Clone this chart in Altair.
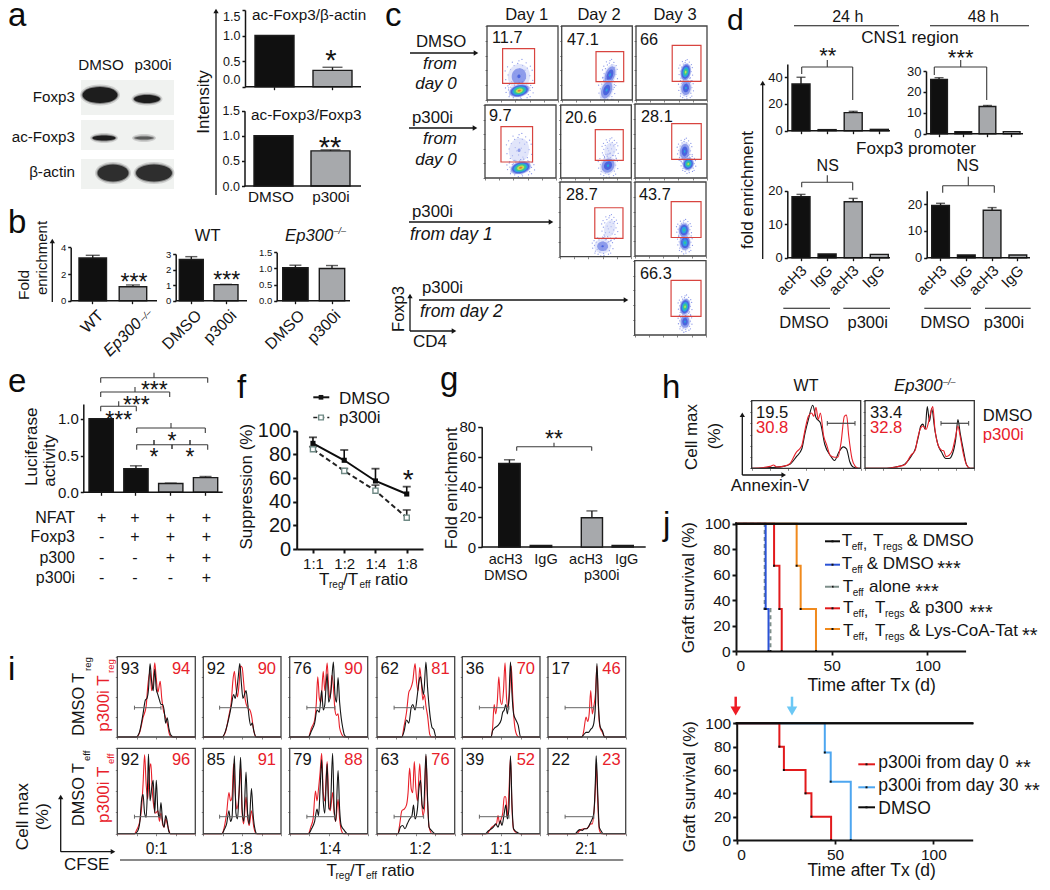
import altair as alt
import pandas as pd

FONT = "Liberation Sans"
W, H = 1034, 874
INK = "#141414"
DARK_BAR = "#101010"
GREY_BAR = "#a7a9ac"
RED = "#e8202a"
GATE = "#d8443f"
ONE = alt.InlineData(values=[{"a": 0}])
layers = []


def text(x, y, s, size=15, color=INK, align="center", baseline="middle", angle=0, italic=False):
    kw = {"fontStyle": "italic"} if italic else {}
    layers.append(alt.Chart(ONE).mark_text(text=s, font=FONT, fontSize=size, color=color, align=align,
                                           baseline=baseline, angle=angle, **kw)
                  .encode(x=alt.value(x - 8), y=alt.value(y - 8)))


def star(cx, cy, n, size=23):
    text(cx, cy + 0.575 * size, "*" * n, size=size, baseline="alphabetic")


def panel_label(x, y, s, size=33):
    text(x, y, s, size=size, align="left", baseline="alphabetic", color="#0c0c0c")


def seg(x1, y1, x2, y2, color=INK, width=1.3, dash=None):
    kw = {"strokeDash": dash} if dash else {}
    layers.append(alt.Chart(ONE).mark_rule(color=color, strokeWidth=width, **kw)
                  .encode(x=alt.value(x1 - 8), x2=alt.value(x2 - 8), y=alt.value(y1 - 8), y2=alt.value(y2 - 8)))


def head(x, y, shape, size=28, color=INK):
    layers.append(alt.Chart(ONE).mark_point(shape=shape, filled=True, size=size, color=color, opacity=1, strokeWidth=0)
                  .encode(x=alt.value(x - 8), y=alt.value(y - 8)))


def arrow_r(x1, x2, y, width=1.3):
    seg(x1, y, x2 - 3, y, width=width)
    head(x2 - 3, y, "triangle-right")


def arrow_u(x, y1, y2, width=1.3):
    seg(x, y1, x, y2 + 3, width=width)
    head(x, y2 + 3, "triangle-up")


def ell_path(w, h):
    a = h / w
    return f"M-1,0A1,{a:.3f} 0 1,1 1,0A1,{a:.3f} 0 1,1 -1,0Z"


def ellipse(x, y, w, h, color, opacity=1.0, angle=0):
    layers.append(alt.Chart(ONE).mark_point(shape=ell_path(w, h), size=w * w, filled=True, color=color,
                                            opacity=opacity, strokeWidth=0, angle=angle)
                  .encode(x=alt.value(x - 8), y=alt.value(y - 8)))


def frame(x0, x1, y0, y1, color="#444444", width=1.3):
    layers.append(alt.Chart(ONE).mark_rect(fill="white", fillOpacity=0, stroke=color, strokeWidth=width)
                  .encode(x=alt.value(x0 - 8), x2=alt.value(x1 - 8), y=alt.value(y0 - 8), y2=alt.value(y1 - 8)))


def yaxis(axx, ticks, size, fmt, tick=3, pad=2, width=1.5, flush=False):
    return alt.Axis(orient="left", offset=-(axx - 8), values=ticks, labelFont=FONT, labelFontSize=size, format=fmt,
                    tickSize=tick, tickWidth=width, tickColor=INK, domainColor=INK, domainWidth=width, labelColor=INK,
                    labelPadding=pad, grid=False, title=None, labelOverlap=False, labelFlush=flush)


def bars(cats, vals, errs, groups, left, right, barw, y0, ytop, dom, axx=None, ticks=None, size=13, fmt="d",
         x_end=None, cap=None, xticks=True, tick=3, flush=False):
    n = len(cats)
    gap = (right - left - n * barw) / (n - 1)
    xs = alt.Scale(domain=cats, range=[left - 8, right - 8], paddingInner=gap / (gap + barw), paddingOuter=0)
    ys = alt.Scale(domain=dom, range=[y0 - 8, ytop - 8])
    cs = alt.Scale(domain=["DMSO", "p300i"], range=[DARK_BAR, GREY_BAR])
    df = pd.DataFrame({"c": cats, "v": vals, "e": errs, "g": groups})
    df["top"] = df.v + df.e
    xax = None
    if xticks:
        xax = alt.Axis(orient="bottom", offset=(y0 - 8) - H, labels=False, domain=False, tickSize=3, tickWidth=1.3,
                       tickColor=INK, grid=False, title=None)
    yax = yaxis(axx, ticks, size, fmt, tick=tick, flush=flush) if axx is not None else None
    layers.append(alt.Chart(df).mark_bar(stroke="#1c1c1c", strokeWidth=1.4).encode(
        x=alt.X("c:N", scale=xs, sort=cats, axis=xax),
        y=alt.Y("v:Q", scale=ys, axis=yax, stack=None),
        color=alt.Color("g:N", scale=cs, legend=None)))
    ed = df[df.e > 0]
    if len(ed):
        layers.append(alt.Chart(ed).mark_rule(color="#1c1c1c", strokeWidth=1.4).encode(
            x=alt.X("c:N", scale=xs, sort=cats, axis=None),
            y=alt.Y("v:Q", scale=ys, axis=None), y2="top:Q"))
        layers.append(alt.Chart(ed).mark_tick(color="#1c1c1c", thickness=1.4, size=cap or barw * 0.5, orient="horizontal").encode(
            x=alt.X("c:N", scale=xs, sort=cats, axis=None),
            y=alt.Y("top:Q", scale=ys, axis=None)))
    if x_end is not None:
        seg(axx, y0, x_end, y0, width=1.6)


def bracket(x0, x1, y, drop_l, drop_r, cx, up, color="#3a3a3a", width=1.1):
    seg(x0, y, x1, y, color, width)
    seg(x0, y, x0, y + drop_l, color, width)
    seg(x1, y, x1, y + drop_r, color, width)
    seg(cx, y, cx, y - up, color, width)


def hist(pts, box, color, width=1.1):
    df = pd.DataFrame({"x": [0] + [p[0] for p in pts] + [100], "y": [0] + [p[1] for p in pts] + [0]})
    x0, x1, y0, y1 = box
    layers.append(alt.Chart(df).mark_line(color=color, strokeWidth=width, interpolate="monotone").encode(
        x=alt.X("x:Q", scale=alt.Scale(domain=[0, 100], range=[x0 - 8, x1 - 8]), axis=None),
        y=alt.Y("y:Q", scale=alt.Scale(domain=[0, 104], range=[y1 - 8, y0 - 8]), axis=None)))


def frame_ticks(box, n=6, left=True, bottom=True):
    x0, x1, y0, y1 = box
    df = pd.DataFrame({"x": [0, 100], "y": [0, 100]})
    vals = [100 * i / (n - 1) for i in range(n)]
    def ax(o, off):
        return alt.Axis(orient=o, offset=off, values=vals, labels=False, domain=False, tickSize=2, tickWidth=0.8,
                        tickColor="#666666", grid=False, title=None)
    layers.append(alt.Chart(df).mark_line(opacity=0).encode(
        x=alt.X("x:Q", scale=alt.Scale(domain=[0, 100], range=[x0 - 8, x1 - 8]), axis=ax("bottom", (y1 - 8) - H) if bottom else None),
        y=alt.Y("y:Q", scale=alt.Scale(domain=[0, 100], range=[y1 - 8, y0 - 8]), axis=ax("left", -(x0 - 8)) if left else None)))


# ---------- panel a ----------
panel_label(8, 26, "a")
for box_y in [(80, 115), (120, 150), (159, 189)]:
    layers.append(alt.Chart(ONE).mark_rect(fill="#f0f2f0").encode(
        x=alt.value(81 - 8), x2=alt.value(174 - 8), y=alt.value(box_y[0] - 8), y2=alt.value(box_y[1] - 8)))
BLOTS = [(100, 95, 35, 16, 1), (147, 99, 26, 8, 1), (104, 138, 23, 5, 1), (144, 138, 19, 3, 0.55),
         (113, 173, 31, 17, 0.85), (154, 173, 36, 17, 0.85)]
for bx, by, bw, bh, dk in BLOTS:
    ellipse(bx, by, bw + 5, bh + 5, "#8c8c8c", 0.35)
    ellipse(bx, by, bw + 2, bh + 2, "#555555", 0.6 * dk)
    ellipse(bx, by, bw, bh, "#1d1d1d", dk)
text(101, 65, "DMSO", 15.2)
text(153, 65, "p300i", 15.2)
text(75, 97, "Foxp3", 15.2, align="right")
text(75, 137, "ac-Foxp3", 15.2, align="right")
text(75, 172, "β-actin", 15.2, align="right")

A_CATS = ["DMSO", "p300i"]
a_top = [1.0, 0.32]
a_top_err = [0, 0.06]
a_bot = [1.0, 0.7]
a_bot_err = [0, 0.02]
bars(A_CATS, a_top, a_top_err, A_CATS, 255, 352, 39, 86.7, 10, [0, 1.5], 245, [0, 0.5, 1.0, 1.5], 12.5, ".1f", 361, cap=20, flush=True)
bars(A_CATS, a_bot, a_bot_err, A_CATS, 254, 350, 39, 186, 110.7, [0, 1.5], 244.5, [0, 0.5, 1.0, 1.5], 12.5, ".1f", 361, cap=20, xticks=False)
text(252, 15, "ac-Foxp3/β-actin", 15.3, align="left")
text(251, 115, "ac-Foxp3/Foxp3", 15.3, align="left")
star(331, 53, 1, 29)
star(330, 140, 2, 29)
text(271, 197, "DMSO", 15.3)
text(331, 197, "p300i", 15.3)
arrow_u(216, 195, 8)
text(204, 102, "Intensity", 17, angle=270)

# ---------- panel b ----------
panel_label(8, 233, "b")
bars(["WT", "Ep300"], [3.2, 1.05], [0.2, 0.13], ["DMSO", "p300i"], 79, 146.7, 27.5, 300.7, 247.3, [0, 4], 70.7, [0, 2, 4], 9.5, "d", 157, cap=14)
bars(["DMSO", "p300i"], [2.65, 1.03], [0.18, 0.02], ["DMSO", "p300i"], 179.3, 238, 24, 300.7, 254, [0, 3], 175.7, [0, 1, 2, 3], 9.5, "d", 247, cap=12, xticks=True)
bars(["DMSO", "p300i"], [1.02, 1.0], [0.08, 0.09], ["DMSO", "p300i"], 282.7, 344.7, 25.4, 300.7, 252.3, [0, 1.5], 276.7, [0, 0.5, 1.0, 1.5], 9.5, ".1f", 350, cap=12)
star(134, 277, 3)
star(226.7, 275, 3)
text(207.7, 236, "WT", 16.5)
text(285, 236, "Ep300", 16.7, align="left", italic=True)
text(333.5, 231, "–/–", 9, align="left", italic=True)
text(24, 285, "Fold", 15.5, angle=270)
text(42, 258, "enrichment", 15, angle=270)
arrow_u(52.3, 302, 238)
text(101, 313, "WT", 16, align="right", angle=315)
text(139, 321, "Ep300", 16, align="right", angle=315, italic=True)
text(141, 320, "–/–", 9, align="left", angle=315, italic=True)
text(199, 313, "DMSO", 16, align="right", angle=315)
text(234, 313, "p300i", 16, align="right", angle=315)
text(302, 313, "DMSO", 16, align="right", angle=315)
text(338, 313, "p300i", 16, align="right", angle=315)

# ---------- panel c ----------
panel_label(385, 26, "c")
# panel frame, gate (percent of the CD4 / Foxp3 axes) and density clouds (cx, cy, width, height, tilt, level)
FACS = [
    ((487, 558, 26, 100), (22, 67, 22.6, 69.3), "11.7", (492, 38), [(45, 32, 24, 27, 10, 2), (45.5, 12.6, 24, 14, 345, 6)]),
    ((561.7, 632.3, 26, 100), (48.6, 87.8, 24.7, 65.3), "47.1", (567, 40), [(68.4, 33.8, 13, 25, 20, 3), (63.7, 13.5, 14, 24, 20, 3)]),
    ((636, 707, 26, 100), (51, 91.5, 25.3, 73.9), "66", (640, 40), [(70.4, 16.2, 13, 19, 5, 3), (70, 37.8, 12, 20, 10, 5)]),
    ((485, 556, 105, 178), (22.5, 67, 21.9, 70.3), "9.7", (489, 116), [(48, 38, 22, 27, 10, 1), (50.3, 14, 24, 14, 345, 6)]),
    ((560.7, 631.3, 105, 178), (49, 88.6, 24.2, 66.2), "20.6", (565, 118), [(70, 38, 14, 20, 15, 0), (67, 17, 17, 20, 30, 3)]),
    ((635, 707, 104, 178), (51, 92, 25.3, 73.4), "28.1", (641, 117), [(69, 36, 13, 21, 5, 3), (74, 19, 13, 15, 20, 5)]),
    ((560, 631, 182, 256.7), (49, 88.7, 24.5, 65.5), "28.7", (566, 195), [(70, 38, 14, 22, 15, 0), (60, 14, 18, 16, 0, 2)]),
    ((635, 706, 182, 256), (51, 93, 25, 73.4), "43.7", (639, 195), [(70.4, 18, 13, 18, 0, 4), (69, 35, 13, 17, 5, 4)]),
    ((634.7, 706, 260.7, 335), (51, 93, 25.2, 73.4), "66.3", (640, 274), [(70.6, 18, 12, 17, 0, 3), (70.6, 38, 12, 19, 10, 5)]),
]
LEVELS = ["#c9cff5", "#7f8fe8", "#3f5bdc", "#25aee0", "#3dd07c", "#dfe04a", "#ee6a2a"]
SPECKLE = [(-.9, .1), (-.7, .5), (-.6, -.4), (-.4, .8), (-.35, .2), (-.3, -.75), (-.1, .95), (-.05, -.35), (.05, .55), (.1, -.9),
           (.2, .15), (.3, .8), (.35, -.5), (.5, .45), (.55, -.15), (.7, .6), (.75, -.55), (.9, .05), (-.8, -.6), (-.2, -.05),
           (0, 1.15), (.15, -1.15), (-.55, 1.05), (.6, 1.0), (-.5, -1.0), (.65, -1.0), (-1.15, .4), (1.15, -.3), (-1.1, -.25), (1.1, .45),
           (-.95, .7), (.95, .75), (-.85, -.85), (.9, -.85), (.25, 1.25), (-.2, -1.25)]
for box, gate, num, numxy, blobs in FACS:
    x0, x1, y0, y1 = box
    xsc = alt.Scale(domain=[0, 100], range=[x0 - 8, x1 - 8])
    ysc = alt.Scale(domain=[0, 100], range=[y1 - 8, y0 - 8])
    for cx, cy, bw, bh, ang, lev in blobs:
        sp = pd.DataFrame({"cx": [cx + dx * bw / 2 * 100 / (x1 - x0) for dx, dy in SPECKLE],
                           "cy": [max(cy + dy * bh / 2 * 100 / (y1 - y0), 1) for dx, dy in SPECKLE]})
        layers.append(alt.Chart(sp).mark_circle(size=1.6, color="#6a7be2", opacity=0.8).encode(
            x=alt.X("cx:Q", scale=xsc, axis=None), y=alt.Y("cy:Q", scale=ysc, axis=None)))
        for i in range(lev + 1):
            f = 1 - 0.85 * (i / lev) ** 1.3 if lev else 0.85
            w_, h_ = max(bw * f * 0.92, 1.5), max(bh * f * 0.92, 1.5)
            layers.append(alt.Chart(pd.DataFrame({"cx": [cx], "cy": [cy]})).mark_point(
                shape=ell_path(w_, h_), size=w_ * w_, filled=True, color=LEVELS[i], opacity=0.55 if i == 0 else 0.85, strokeWidth=0, angle=ang
            ).encode(x=alt.X("cx:Q", scale=xsc, axis=None), y=alt.Y("cy:Q", scale=ysc, axis=None)))
    gd = pd.DataFrame({"a": [gate[0]], "b": [gate[1]], "c": [gate[2]], "d": [gate[3]]})
    layers.append(alt.Chart(gd).mark_rect(fill="white", fillOpacity=0, stroke=GATE, strokeWidth=1.2).encode(
        x=alt.X("a:Q", scale=xsc, axis=None), x2="b:Q",
        y=alt.Y("c:Q", scale=ysc, axis=None), y2="d:Q"))
    frame(x0, x1, y0, y1)
    frame_ticks(box)
    text(numxy[0], numxy[1], num, 16.3, align="left")
text(526.7, 15, "Day 1", 16.5)
text(599, 15, "Day 2", 16.5)
text(675, 15, "Day 3", 16.5)
text(416, 42, "DMSO", 16.8, align="left")
arrow_r(410, 479, 53)
text(440, 64, "from", 17, italic=True)
text(436, 84, "day 0", 17, italic=True)
text(412, 118, "p300i", 16.8, align="left")
arrow_r(409, 478, 128)
text(440, 139, "from", 17, italic=True)
text(436, 160, "day 0", 17, italic=True)
text(412, 212, "p300i", 16.8, align="left")
arrow_r(409, 554, 222)
text(410, 235, "from day 1", 17.5, align="left", italic=True)
text(422, 288, "p300i", 16.8, align="left")
arrow_r(419, 629, 300)
text(420, 312, "from day 2", 17.5, align="left", italic=True)
text(399, 309, "Foxp3", 16.5, angle=270)
arrow_u(410, 331, 293)
arrow_r(410, 457, 331)
text(413, 342, "CD4", 17, align="left")

# ---------- panel d ----------
panel_label(727, 30, "d", 30)
D_CATS = ["acH3", "IgG", "acH3 ", "IgG "]
D_GROUPS = ["DMSO", "DMSO", "p300i", "p300i"]
bars(D_CATS, [35, 0.8, 13.5, 1], [5, 0, 1, 0], D_GROUPS, 792, 888.3, 18, 130.7, 63.9, [0, 50], 787.3, [0, 20, 40], 13, "d", 890, cap=9)
bars(D_CATS, [26, 1, 13, 1], [0.8, 0, 0.5, 0], D_GROUPS, 930.7, 1020, 16.7, 133.7, 71, [0, 30], 926, [0, 10, 20, 30], 13, "d", 1023, cap=9)
bars(D_CATS, [18.2, 1.1, 16.7, 1], [0.7, 0, 1, 0], D_GROUPS, 792, 888.3, 18, 257.7, 190.7, [0, 20], 787.3, [0, 10, 20], 13, "d", 890, cap=9)
bars(D_CATS, [19.5, 1, 17.7, 1], [0.8, 0, 1, 0], D_GROUPS, 931.7, 1026.7, 17.7, 257.7, 190.7, [0, 25], 926.7, [0, 10, 20], 13, "d", 1030, cap=9)
text(847.7, 17, "24 h", 16)
seg(794, 25.7, 899, 25.7, width=1.1)
text(983.3, 17, "48 h", 16)
seg(930, 25.7, 1029, 25.7, width=1.1)
text(910, 38, "CNS1 region", 17)
text(916, 149.3, "Foxp3 promoter", 17)
star(827.7, 50.7, 2, 22)
star(960.7, 52.7, 3, 22)
text(827.7, 166, "NS", 16)
text(967.7, 166, "NS", 16)
bracket(801.7, 852.7, 67, 7, 33, 827.3, 7)
bracket(934.3, 986.7, 67, 8, 33, 960.7, 7)
bracket(801.7, 852.7, 182.3, 5, 8, 827.3, 7)
bracket(942.7, 994.3, 185.7, 7, 7, 968.3, 9)
text(748.3, 190, "fold enrichment", 17.3, angle=270)
arrow_u(762.7, 259, 80)
for cx, lab in zip([804, 830, 856, 882, 944, 970, 996, 1021], ["acH3", "IgG"] * 4):
    text(cx, 268, lab, 15, align="right", angle=315)
for xa, xb, xl, lab in [(783.3, 830, 804, "DMSO"), (843.3, 890, 867.7, "p300i"), (924.3, 971, 945, "DMSO"), (985, 1030.7, 1004, "p300i")]:
    seg(xa, 308.3, xb, 308.3, width=1.1)
    text(xl, 322.7, lab, 16.5)

# ---------- panel e ----------
panel_label(8, 392, "e")
bars(["1", "2", "3", "4"], [1.0, 0.32, 0.12, 0.2], [0, 0.04, 0.005, 0.015], ["DMSO", "DMSO", "p300i", "p300i"],
     89, 217.7, 24.3, 492.3, 404, [0, 1.2], 83.3, [0, 0.5, 1.0], 15, ".1f", 222.7, cap=12)
text(31.7, 446.7, "Luciferase", 17, angle=270)
text(50, 460.7, "activity", 17, angle=270)
bracket(100.7, 207.7, 377.7, 5, 5, 154, 5)
star(154.3, 384.3, 3)
bracket(100.7, 169.7, 392, 5, 5, 135, 5)
star(136.3, 399.3, 3)
bracket(100.7, 136.3, 406.3, 5, 5, 118.7, 5)
star(118.7, 414.7, 3)
bracket(136.7, 205.3, 428, 5, 5, 171, 5)
star(172, 435.7, 1)
bracket(136.7, 207.7, 444.7, 5, 5, 172, 0)
seg(172, 444.7, 172, 449)
seg(154, 444.7, 154, 440)
seg(190, 444.7, 190, 440)
star(154, 452, 1)
star(190, 452, 1)
E_ROWS = {"NFAT": "++++", "Foxp3": "-+++", "p300": "--++", "p300i": "---+"}
for (lab, marks), yy in zip(E_ROWS.items(), [517.7, 537.3, 558.3, 578]):
    text(75, yy, lab, 16, align="right")
    for cx, m in zip([101.7, 135, 170.3, 206.3], marks):
        text(cx, yy, m, 16)

# ---------- panel f ----------
panel_label(237, 398, "f")
F_CATS = ["1:1", "1:2", "1:4", "1:8"]
f_dmso = [89.3, 75, 57.5, 46.5]
f_dmso_top = [94.4, 83.7, 67.9, 52.7]
f_p300 = [84.3, 66, 49.3, 26.5]
f_p300_top = [86.5, 68, 54, 33]
fx = alt.Scale(type="point", domain=F_CATS, range=[296.7 - 8, 423 - 8], padding=0.52)
fy = alt.Scale(domain=[0, 100], range=[549 - 8, 430.7 - 8])
fdf = pd.DataFrame({"c": F_CATS, "d": f_dmso, "dt": f_dmso_top, "p": f_p300, "pt": f_p300_top})
FX_AX = alt.Axis(orient="bottom", offset=(549 - 8) - H, labelFont=FONT, labelFontSize=15, labelAngle=0, tickSize=4, tickWidth=2,
                 domainWidth=2, domainColor=INK, tickColor=INK, labelColor=INK, grid=False, title=None, labelPadding=3)
for val, top, color, dash, hollow in [("p", "pt", "#222222", [5, 3], True), ("d", "dt", "#0c0c0c", None, False)]:
    base_x = alt.X("c:N", scale=fx, sort=F_CATS, axis=None)
    kw = {"strokeDash": dash} if dash else {}
    first = alt.Y(f"{val}:Q", scale=fy, axis=None)
    layers.append(alt.Chart(fdf).mark_rule(color=color, strokeWidth=1.6).encode(x=base_x, y=first, y2=f"{top}:Q"))
    layers.append(alt.Chart(fdf).mark_tick(color=color, thickness=1.8, size=8, orient="horizontal").encode(
        x=base_x, y=alt.Y(f"{top}:Q", scale=fy, axis=None)))
    layers.append(alt.Chart(fdf).mark_line(color=color, strokeWidth=2, **kw).encode(x=base_x, y=first))
    if hollow:
        layers.append(alt.Chart(fdf).mark_point(shape="square", size=26, filled=True, fill="white", stroke="#6f8a85", strokeWidth=1.4, opacity=1).encode(x=base_x, y=first))
    else:
        layers.append(alt.Chart(fdf).mark_point(shape="square", size=26, filled=True, color="#0c0c0c", opacity=1).encode(
            x=alt.X("c:N", scale=fx, sort=F_CATS, axis=FX_AX),
            y=alt.Y(f"{val}:Q", scale=fy, axis=yaxis(296.7, [0, 20, 40, 60, 80, 100], 20, "d", tick=4, width=2))))
text(247.3, 486.7, "Suppression (%)", 17, angle=270)
seg(313.3, 397.3, 329.3, 397.3, width=2)
head(321, 397.3, "square", 22)
text(339, 398.5, "DMSO", 17, align="left")
seg(313.3, 417.5, 329.3, 417.5, "#222222", 1.6, [4, 3])
layers.append(alt.Chart(ONE).mark_point(shape="square", size=22, filled=True, fill="white", stroke="#6f8a85", strokeWidth=1.4, opacity=1)
              .encode(x=alt.value(321 - 8), y=alt.value(417.5 - 8)))
text(339, 417.5, "p300i", 17, align="left")
star(408.3, 473.3, 1, 28)
text(319, 580, "T", 17, align="left")
text(329, 585, "reg", 10, align="left")
text(343, 580, "/T", 17, align="left")
text(359.5, 585, "eff", 10, align="left")
text(375, 580, "ratio", 17, align="left")

# ---------- panel g ----------
panel_label(440, 390, "g")
bars(["acH3", "IgG"], [55.5, 1], [2.5, 0], ["DMSO", "DMSO"], 498.7, 551.7, 21.5, 547, 426.7, [0, 80], 481.7, [0, 20, 40, 60, 80], 15, "d", 645.7, cap=11, xticks=False, tick=4)
bars(["acH3", "IgG"], [19.5, 1], [4.5, 0], ["p300i", "p300i"], 581.3, 633.3, 21.2, 547, 426.7, [0, 80], cap=11, xticks=False)
for cx, lab in zip([505.7, 546, 586, 626.7], ["acH3", "IgG"] * 2):
    text(cx, 560, lab, 14.5)
text(505.7, 576, "DMSO", 14.5)
text(601.7, 576, "p300i", 14.5)
text(452.3, 488.3, "Fold enrichment", 17, angle=270)
bracket(516.7, 591.7, 446.7, 4, 4, 554, 4)
star(554, 434, 2)

# ---------- panel h ----------
panel_label(662, 398, "h")
H_BOX1 = (751.7, 860.7, 400.7, 468.3)
H_BOX2 = (865, 974.3, 400.7, 468.3)
wt_black = [(1.5, 0), (17, 1), (29, 3), (35, 6), (41, 18), (46, 30), (49, 55), (52, 75), (56, 97), (59, 78), (63, 70), (67, 37), (72, 20), (76, 12), (80, 25), (84, 33), (87, 30), (90, 10), (93, 2), (98, 0)]
wt_red = [(1.5, 0), (17, 3), (20, 5), (23, 2), (29, 3), (35, 7), (41, 25), (44, 30), (46, 35), (49, 60), (52, 80), (55, 85), (57, 80), (59, 94), (61, 75), (63, 85), (66, 50), (69, 35), (72, 20), (76, 17), (79, 17), (82, 40), (85, 80), (87, 82), (89, 50), (92, 15), (95, 3), (98, 0)]
ko_black = [(2, 0), (20, 0), (28, 2), (36, 6), (42, 18), (46, 30), (49, 50), (51, 65), (53, 68), (55, 60), (57, 95), (59, 72), (61, 92), (64, 58), (67, 35), (70, 25), (74, 15), (77, 15), (80, 22), (83, 45), (85, 75), (87, 55), (90, 28), (93, 5), (96, 0), (99, 0)]
ko_red = [(2, 0), (20, 0), (28, 2), (36, 5), (42, 20), (46, 28), (48, 45), (51, 62), (53, 65), (56, 60), (58, 70), (60, 85), (62, 95), (64, 60), (67, 35), (70, 28), (72, 27), (74, 18), (77, 20), (80, 28), (83, 50), (85, 65), (87, 50), (90, 22), (93, 5), (96, 0), (99, 0)]
for box, blk, rd, (gx0, gx1) in [(H_BOX1, wt_black, wt_red, (827.3, 855)), (H_BOX2, ko_black, ko_red, (941, 968.7))]:
    hist(blk, box, INK, 1.1)
    hist(rd, box, RED, 1.1)
    frame(box[0], box[1], box[2], box[3], "#333333")
    frame_ticks(box, n=7)
    seg(gx0, 423.3, gx1, 423.3, "#444444", 1.2)
    seg(gx0, 421, gx0, 425.6, "#444444", 1)
    seg(gx1, 421, gx1, 425.6, "#444444", 1)
text(806, 386, "WT", 16)
text(894, 386, "Ep300", 16.8, align="left", italic=True)
text(943, 382, "–/–", 9, align="left", italic=True)
text(756, 412.7, "19.5", 16.6, align="left")
text(756, 427.7, "30.8", 16.6, align="left", color=RED)
text(870, 412.7, "33.4", 16.6, align="left")
text(870, 427.7, "32.8", 16.6, align="left", color=RED)
text(982.7, 416, "DMSO", 16.6, align="left")
text(982.7, 435, "p300i", 16.8, align="left", color=RED)
arrow_u(742.3, 475, 411.7)
arrow_r(742.3, 786.7, 475)
text(730.7, 486, "Annexin-V", 17, align="left")
text(692, 437, "Cell max", 17, angle=270)
text(715, 436, "(%)", 17, angle=270)

# ---------- panel i ----------
panel_label(8, 680, "i")
I_COLS = [(117.3, 195.3), (203.3, 281), (289.7, 367.7), (377, 454.7), (462.3, 540), (548, 625.7)]
I_ROWS = [(656.7, 737), (748.3, 833.7)]
I_GATE_Y = [707.7, 816.7]
I_GATE_X = [(22, 56), (21, 58), (22, 58), (22, 60), (22, 60), (22, 59)]
I_BLACK_NUM = [["93", "92", "76", "62", "36", "17"], ["92", "85", "79", "63", "39", "22"]]
I_RED_NUM = [["94", "90", "90", "81", "70", "46"], ["96", "91", "88", "76", "52", "23"]]
I_BLACK = [[
    [(24, 0), (28, 5), (33, 30), (36, 48), (38, 50), (40, 62), (42, 95), (44, 72), (46, 60), (48, 88), (50, 62), (52, 55), (54, 48), (56, 42), (58, 42), (60, 35), (62, 18), (64, 25), (66, 12), (69, 2), (72, 0)],
    [(24, 0), (28, 6), (33, 25), (36, 40), (39, 55), (41, 50), (43, 60), (45, 78), (47, 95), (49, 70), (51, 50), (53, 55), (55, 60), (57, 45), (59, 25), (61, 15), (63, 18), (65, 8), (68, 0)],
    [(24, 0), (28, 8), (32, 18), (35, 35), (38, 32), (41, 60), (43, 35), (45, 42), (48, 82), (50, 45), (53, 60), (56, 97), (58, 55), (60, 45), (62, 77), (64, 45), (66, 25), (68, 12), (70, 3), (73, 0)],
    [(32, 0), (35, 8), (38, 22), (41, 18), (44, 38), (46, 42), (49, 35), (52, 55), (54, 72), (56, 78), (58, 65), (60, 55), (63, 97), (65, 65), (67, 40), (69, 22), (71, 12), (73, 10), (76, 0)],
    [(37, 0), (39, 8), (42, 12), (46, 15), (50, 22), (52, 32), (54, 35), (56, 42), (58, 30), (60, 50), (62, 97), (64, 55), (66, 30), (69, 22), (72, 15), (75, 0)],
    [(43, 0), (46, 3), (49, 6), (52, 6), (55, 10), (57, 12), (59, 18), (61, 40), (63, 95), (65, 40), (67, 14), (70, 8), (73, 0)],
], [
    [(22, 0), (26, 3), (29, 15), (31, 40), (33, 48), (35, 25), (37, 20), (39, 65), (40, 97), (42, 40), (44, 55), (46, 65), (48, 25), (50, 65), (52, 28), (54, 20), (56, 38), (58, 15), (60, 8), (62, 22), (64, 15), (66, 3), (68, 0)],
    [(24, 0), (27, 5), (30, 12), (33, 28), (35, 15), (37, 20), (40, 95), (42, 25), (44, 18), (46, 50), (48, 93), (50, 30), (52, 15), (55, 75), (57, 25), (59, 12), (62, 55), (64, 25), (66, 8), (69, 0)],
    [(24, 0), (28, 6), (32, 15), (35, 30), (37, 22), (39, 55), (41, 90), (43, 40), (45, 25), (48, 85), (50, 30), (52, 30), (55, 98), (57, 30), (59, 15), (62, 77), (64, 30), (66, 10), (70, 4), (74, 0)],
    [(27, 0), (30, 8), (33, 10), (36, 6), (39, 12), (42, 18), (45, 22), (47, 35), (49, 18), (52, 30), (54, 55), (56, 65), (58, 35), (60, 30), (63, 97), (65, 45), (67, 8), (70, 4), (75, 0)],
    [(30, 0), (33, 3), (36, 5), (40, 8), (43, 12), (46, 8), (49, 16), (51, 10), (54, 25), (56, 35), (58, 18), (60, 30), (62, 95), (64, 35), (66, 6), (70, 2), (75, 0)],
    [(35, 0), (38, 3), (41, 5), (44, 4), (47, 6), (50, 6), (53, 10), (55, 14), (57, 18), (59, 25), (61, 65), (62, 95), (64, 50), (66, 8), (68, 4), (71, 0)],
]]
I_RED = [[
    [(25, 0), (29, 7), (33, 25), (37, 40), (39, 65), (42, 85), (44, 60), (46, 72), (48, 96), (50, 75), (52, 58), (55, 72), (57, 50), (59, 35), (61, 28), (64, 18), (67, 3), (70, 0)],
    [(24, 0), (28, 5), (33, 28), (36, 45), (38, 72), (40, 85), (42, 65), (44, 52), (46, 68), (48, 92), (50, 90), (52, 70), (54, 48), (57, 38), (60, 35), (62, 28), (65, 8), (68, 0)],
    [(24, 0), (28, 12), (32, 22), (34, 42), (36, 78), (38, 50), (40, 45), (43, 85), (45, 60), (48, 96), (50, 62), (52, 50), (54, 80), (56, 65), (58, 35), (60, 28), (62, 30), (64, 12), (67, 3), (70, 0)],
    [(32, 0), (35, 15), (38, 32), (41, 58), (43, 62), (46, 72), (49, 95), (51, 70), (53, 60), (55, 90), (57, 72), (59, 48), (61, 55), (63, 40), (65, 28), (68, 3), (70, 0)],
    [(37, 0), (39, 12), (41, 42), (43, 30), (45, 45), (47, 78), (49, 48), (51, 42), (53, 60), (55, 96), (57, 50), (59, 38), (61, 60), (63, 92), (65, 50), (67, 18), (70, 3), (73, 0)],
    [(44, 0), (46, 8), (49, 26), (51, 20), (53, 30), (55, 60), (57, 30), (59, 40), (61, 55), (63, 92), (65, 35), (67, 12), (70, 6), (73, 0)],
], [
    [(22, 0), (25, 5), (28, 12), (31, 30), (33, 60), (35, 96), (37, 60), (39, 42), (41, 75), (43, 85), (45, 50), (47, 32), (49, 25), (52, 28), (54, 15), (56, 25), (58, 12), (60, 8), (62, 18), (65, 8), (68, 0)],
    [(24, 0), (27, 8), (30, 25), (33, 50), (35, 40), (37, 45), (39, 85), (41, 50), (43, 30), (46, 48), (48, 82), (50, 25), (52, 12), (55, 45), (57, 20), (59, 10), (62, 28), (65, 8), (68, 0)],
    [(24, 0), (27, 8), (30, 18), (33, 52), (35, 40), (37, 55), (39, 75), (41, 98), (43, 50), (45, 40), (48, 88), (50, 40), (52, 28), (55, 50), (57, 25), (59, 15), (62, 42), (64, 18), (66, 5), (69, 0)],
    [(27, 0), (29, 10), (32, 28), (35, 30), (38, 35), (40, 50), (42, 80), (44, 55), (46, 50), (48, 88), (50, 55), (52, 40), (55, 85), (57, 50), (59, 22), (61, 30), (63, 95), (65, 40), (67, 8), (71, 0)],
    [(32, 0), (35, 4), (38, 8), (41, 10), (44, 12), (46, 22), (48, 12), (50, 18), (52, 25), (54, 45), (56, 45), (58, 20), (60, 50), (62, 92), (64, 30), (66, 5), (70, 1), (74, 0)],
    [(37, 0), (40, 3), (43, 5), (46, 6), (49, 6), (52, 8), (55, 12), (57, 12), (59, 25), (61, 55), (62, 85), (64, 40), (66, 5), (69, 0)],
]]
for r, (ry0, ry1) in enumerate(I_ROWS):
    for c, (cx0, cx1) in enumerate(I_COLS):
        box = (cx0, cx1, ry0, ry1)
        hist(I_RED[r][c], box, RED, 1.1)
        hist(I_BLACK[r][c], box, INK, 1.1)
        frame(cx0, cx1, ry0, ry1, "#444444")
        frame_ticks(box, n=5)
        gx0 = cx0 + (cx1 - cx0) * I_GATE_X[c][0] / 100
        gx1 = cx0 + (cx1 - cx0) * I_GATE_X[c][1] / 100
        gy = I_GATE_Y[r]
        seg(gx0, gy, gx1, gy, "#666666", 1)
        seg(gx0, gy - 2, gx0, gy + 2, "#666666", 1)
        seg(gx1, gy - 2, gx1, gy + 2, "#666666", 1)
        text(cx0 + 3.5, ry0 + 12, I_BLACK_NUM[r][c], 16.5, align="left")
        text(cx1 - 5, ry0 + 12, I_RED_NUM[r][c], 16.5, align="right", color=RED)
text(79, 735.7, "DMSO T", 16.3, align="left", angle=270)
text(88, 671, "reg", 9.5, align="left", angle=270)
text(104, 731.7, "p300i T", 17, align="left", angle=270, color=RED)
text(111, 673, "reg", 9.5, align="left", angle=270, color=RED)
text(79, 826, "DMSO T", 16.3, align="left", angle=270)
text(87, 761, "eff", 9.5, align="left", angle=270)
text(104, 823, "p300i T", 17, align="left", angle=270, color=RED)
text(111, 764, "eff", 9.5, align="left", angle=270, color=RED)
text(22.7, 816.7, "Cell max", 17.3, angle=270)
text(43.3, 816.7, "(%)", 17.3, angle=270)
arrow_u(60.7, 851.7, 794)
arrow_r(60.7, 116, 851.7)
text(64, 865, "CFSE", 17, align="left")
for cx, lab in zip([156.7, 241.7, 330, 420, 501, 586], ["0:1", "1:8", "1:4", "1:2", "1:1", "2:1"]):
    text(cx, 849.3, lab, 15.6)
seg(120, 860, 623.3, 860, width=1.2)
text(326.5, 871, "T", 17, align="left")
text(335.5, 876, "reg", 10, align="left")
text(350, 871, "/T", 17, align="left")
text(366, 876, "eff", 10, align="left")
text(381.5, 871, "ratio", 17, align="left")

# ---------- panel j ----------
panel_label(663, 535, "j")


def km(series, x_rng, y_rng, color, width=2, dash=None, axes=None):
    df = pd.DataFrame({"t": [p[0] for p in series], "s": [p[1] for p in series]})
    xs = alt.Scale(domain=[0, 120], range=[x_rng[0] - 8, x_rng[1] - 8])
    ys = alt.Scale(domain=[0, 100], range=[y_rng[0] - 8, y_rng[1] - 8])
    kw = {"strokeDash": dash} if dash else {}
    xax, yax = axes if axes else (None, None)
    layers.append(alt.Chart(df).mark_line(color=color, strokeWidth=width, interpolate="step-after", **kw).encode(
        x=alt.X("t:Q", scale=xs, axis=xax), y=alt.Y("s:Q", scale=ys, axis=yax)))
    layers.append(alt.Chart(df).mark_point(shape="square", size=4, filled=True, color="#111111", opacity=1).encode(
        x=alt.X("t:Q", scale=xs, axis=None), y=alt.Y("s:Q", scale=ys, axis=None)))


def km_axes(y0, axx):
    xa = alt.Axis(orient="bottom", offset=(y0 - 8) - H, values=[0, 50, 100], labelFont=FONT, labelFontSize=15.5, tickSize=4, tickWidth=1.8,
                  domainWidth=2, domainColor=INK, tickColor=INK, labelColor=INK, grid=False, title=None, labelPadding=3, format="d")
    ya = yaxis(axx, [0, 20, 40, 60, 80, 100], 15.5, "d", tick=4, width=2)
    return xa, ya


J1X, J1Y = (736, 965.6), (651, 523.7)
j1_black = [(0, 100), (120, 100)]
j1_grey = [(0, 100), (15, 33), (18, 0)]
j1_blue = [(0, 100), (15.5, 33), (17, 0)]
j1_red = [(0, 100), (19.9, 67), (22.7, 33), (23.9, 0)]
j1_orange = [(0, 100), (31.7, 67), (33.8, 33), (41.8, 0)]
km(j1_grey, J1X, J1Y, "#7d8f8a", 2, [4, 3])
km(j1_blue, J1X, J1Y, "#2a52d6")
km(j1_red, J1X, J1Y, "#e21a1c")
km(j1_orange, J1X, J1Y, "#f08a1d")
km(j1_black, J1X, J1Y, "#0c0c0c", axes=km_axes(651, 736))
seg(736, 523.7, 967, 523.7, "#0c0c0c", 2)

for yy, col, dash in [(541.3, "#0c0c0c", None), (564.7, "#2a52d6", None), (586.7, "#7d8f8a", [6, 2]), (608.3, "#e21a1c", None), (629, "#f08a1d", None)]:
    seg(825, yy, 840, yy, col, 2, dash)
    head(832.5, yy, "square", 4, "#111111")


def tsub(x, y, sub, size=17):
    text(x, y, "T", size, align="left")
    text(x + 10, y + 6, sub, 10, align="left")


tsub(841.7, 541, "eff")
text(863, 544, ",", 15, align="left")
tsub(873, 541, "regs")
text(906.7, 541, "& DMSO", 17, align="left")
tsub(841.7, 564, "eff")
text(866.7, 564, "& DMSO", 17, align="left")
star(949, 563, 3, 20)
tsub(842.7, 587, "eff")
text(869, 587, "alone", 17, align="left")
star(927, 586, 3, 20)
tsub(843, 608, "eff")
text(864, 611, ",", 15, align="left")
tsub(875, 608, "regs")
text(909, 608, "& p300", 17, align="left")
star(981, 607, 3, 20)
tsub(843, 631, "eff")
text(864, 634, ",", 15, align="left")
tsub(875, 631, "regs")
text(909, 631, "& Lys-CoA-Tat", 17, align="left")
star(1029.7, 630, 2, 20)
text(689, 587.7, "Graft survival (%)", 17, angle=270)
text(871.7, 685.7, "Time after Tx (d)", 17.5)

J2X, J2Y = (736.7, 972.7), (840, 723.3)
j2_black = [(0, 100), (120, 100)]
j2_red = [(0, 100), (21.7, 80), (24, 60), (35, 40), (38, 20), (48, 0)]
j2_blue = [(0, 100), (44.8, 75), (47.8, 50), (58, 0)]
km(j2_blue, J2X, J2Y, "#4da6f0")
km(j2_red, J2X, J2Y, "#e21a1c")
km(j2_black, J2X, J2Y, "#0c0c0c", axes=km_axes(840, 736.7))
seg(736.7, 723.3, 972.7, 723.3, "#0c0c0c", 2)
for xx, col in [(735.7, "#ee1c25"), (792, "#6cc8f5")]:
    seg(xx, 696.7, xx, 708, col, 2.5)
    head(xx, 711, "triangle-down", 110, col)
for yy, col in [(764.3, "#e21a1c"), (787.3, "#4da6f0"), (807.3, "#0c0c0c")]:
    seg(858.3, yy, 875, yy, col, 2)
    head(866.5, yy, "square", 4, "#111111")
text(878.3, 762.7, "p300i from day 0", 17.5, align="left")
star(1023, 762, 2, 20)
text(878.3, 786, "p300i from day 30", 17.5, align="left")
star(1032, 785, 2, 20)
text(878.3, 808.7, "DMSO", 17.5, align="left")
text(690, 786.7, "Graft survival (%)", 17, angle=270)
text(871.7, 871, "Time after Tx (d)", 17.5)

chart = (alt.layer(*layers)
         .resolve_scale(x="independent", y="independent", color="independent")
         .properties(width=W, height=H, padding=0, autosize="none", background="white")
         .configure_view(stroke=None))
chart.save("out.html", embed_options={"renderer": "svg", "actions": False})
